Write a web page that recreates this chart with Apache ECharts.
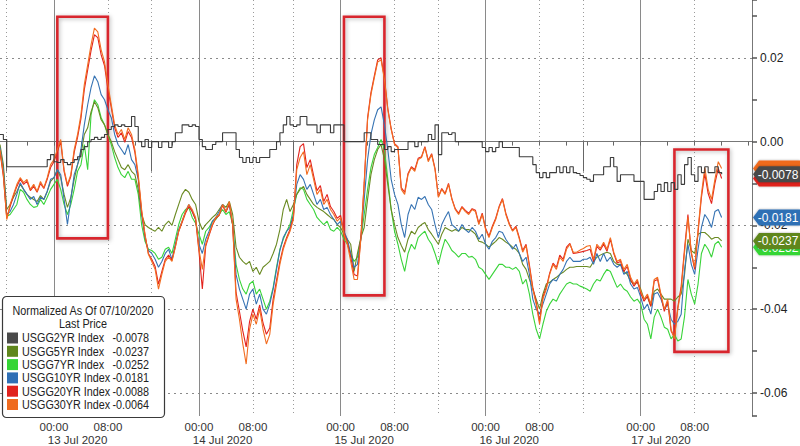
<!DOCTYPE html>
<html><head><meta charset="utf-8">
<script src="https://cdn.jsdelivr.net/npm/echarts@6/dist/echarts.min.js"></script>
<style>html,body{margin:0;padding:0;background:#fff}#c{width:800px;height:446px}</style>
</head><body><div id="c"></div>
<script>
// Trading sessions (30-minute bars); gaps between sessions are compressed like the terminal chart.
const sessions = [
  {label:'',            day:'2020-07-10', start:'2020-07-10 13:30', end:'2020-07-10 14:00'},
  {label:'13 Jul 2020', day:'2020-07-13', start:'2020-07-12 17:00', end:'2020-07-13 14:00'},
  {label:'14 Jul 2020', day:'2020-07-14', start:'2020-07-13 17:00', end:'2020-07-14 13:30'},
  {label:'15 Jul 2020', day:'2020-07-15', start:'2020-07-14 17:00', end:'2020-07-15 14:00'},
  {label:'16 Jul 2020', day:'2020-07-16', start:'2020-07-15 17:00', end:'2020-07-16 14:00'},
  {label:'17 Jul 2020', day:'2020-07-17', start:'2020-07-16 15:30', end:'2020-07-17 16:30'}
];
const timeLabels = ['00:00', '08:00'];
const seriesNames = ['USGG2YR Index','USGG5YR Index','USGG7YR Index','USGG10YR Index','USGG20YR Index','USGG30YR Index'];
const legendTitle = 'Normalized As Of 07/10/2020';
const legendSub = 'Last Price';

// Values in units of 0.0001 (change since 07/10/2020 close)
const usgg2 = [17,5,-60,-60,-60,-60,-60,-60,-60,-60,
-60,-60,-60,-60,-43,-31,-48,-50,-43,-50,
-55,-50,-43,-36,-19,-12,0,5,10,5,
10,17,29,36,40,36,40,36,36,60,
36,0,-12,5,-14,0,0,-14,0,0,
-14,0,21,21,40,40,36,40,36,5,
-12,-19,-19,-7,0,0,21,21,21,21,
-19,-38,-50,-38,-50,-38,-50,-38,-38,-38,
-19,-19,0,21,40,60,40,36,40,60,
60,40,40,40,21,40,40,40,21,40,
40,40,0,0,0,0,0,0,21,21,
5,5,-7,-7,-19,-12,-24,-19,-19,-19,
-19,0,0,-12,0,0,0,17,5,40,
-31,21,21,17,21,0,0,0,0,0,
0,0,0,-14,-24,-14,-24,-14,0,-14,
-14,-14,-14,-14,-36,-36,-36,-36,-55,-74,
-86,-74,-86,-74,-74,-60,-74,-60,-74,-60,
-74,-76,-81,-86,-90,-95,-79,-79,-79,-60,
-60,-38,-60,-95,-79,-79,-79,-79,-95,-95,
-95,-138,-138,-138,-119,-102,-119,-98,-119,-98,
-114,-79,-102,-55,-38,-79,-95,-60,-74,-60,
-74,-74,-60,-74,-78];
const usgg5 = [-7,-55,-162,-150,-133,-119,-102,-114,-126,-133,
-138,-143,-129,-138,-119,-95,-86,-67,-86,-126,
-157,-133,-90,-55,-31,17,33,71,95,81,
52,40,17,0,-24,-43,-62,-67,-55,-71,
-79,-114,-174,-198,-205,-210,-214,-205,-214,-198,
-190,-200,-174,-150,-126,-114,-121,-138,-150,-190,
-210,-198,-190,-181,-174,-162,-150,-157,-143,-174,
-252,-276,-286,-293,-286,-310,-300,-317,-300,-293,
-286,-267,-245,-210,-162,-138,-167,-150,-126,-114,
-107,-126,-138,-150,-157,-162,-167,-174,-181,-186,
-198,-205,-221,-233,-245,-310,-267,-229,-205,-138,
-79,-43,-19,-7,-43,-102,-162,-198,-229,-248,
-264,-233,-214,-221,-205,-198,-193,-210,-221,-233,
-245,-221,-205,-210,-214,-210,-214,-205,-210,-210,
-214,-221,-238,-240,-245,-252,-245,-238,-229,-233,
-240,-245,-252,-257,-267,-293,-305,-329,-352,-376,
-400,-364,-340,-336,-329,-324,-317,-312,-305,-300,
-300,-298,-298,-298,-298,-300,-286,-276,-271,-267,
-264,-267,-286,-293,-293,-310,-317,-333,-340,-336,
-352,-376,-371,-393,-357,-352,-364,-376,-376,-376,
-381,-371,-364,-317,-233,-260,-267,-221,-217,-217,
-224,-233,-229,-229,-237];
const usgg7 = [-24,-71,-179,-174,-162,-150,-114,-121,-138,-150,
-157,-155,-138,-150,-133,-114,-102,-90,-114,-150,
-174,-150,-114,-71,-55,-7,-67,64,100,88,
57,40,17,-7,-38,-62,-79,-86,-71,-90,
-90,-126,-198,-238,-257,-260,-267,-281,-276,-257,
-252,-267,-233,-198,-174,-162,-157,-181,-195,-221,
-245,-214,-205,-190,-186,-174,-162,-174,-167,-198,
-293,-329,-352,-364,-340,-333,-364,-352,-376,-400,
-381,-348,-300,-257,-233,-214,-198,-162,-126,-110,
-114,-138,-150,-162,-181,-190,-198,-190,-210,-214,
-205,-214,-233,-245,-267,-286,-276,-233,-174,-114,
-62,-31,-14,5,-19,-90,-162,-214,-245,-281,
-310,-267,-245,-257,-229,-221,-214,-233,-245,-267,
-293,-260,-233,-245,-260,-267,-276,-267,-267,-276,
-274,-281,-300,-305,-317,-329,-317,-305,-293,-293,
-300,-300,-305,-300,-310,-340,-329,-364,-412,-448,
-471,-436,-405,-388,-376,-381,-364,-352,-340,-336,
-340,-340,-345,-348,-352,-357,-340,-329,-333,-317,
-305,-310,-329,-348,-340,-352,-357,-371,-381,-376,
-388,-424,-436,-471,-419,-400,-419,-443,-448,-471,
-460,-476,-471,-417,-329,-364,-388,-340,-267,-245,
-257,-276,-245,-238,-252];
const usgg10 = [-14,-67,-174,-167,-150,-126,-98,-114,-126,-138,
-131,-150,-133,-138,-119,-90,-86,-67,-79,-138,
-198,-138,-79,-55,-19,40,88,129,157,143,
112,100,76,57,17,-7,-19,-31,-7,-43,
-55,-90,-174,-229,-260,-267,-281,-300,-286,-267,
-257,-281,-245,-210,-190,-167,-150,-167,-186,-245,
-267,-233,-214,-190,-181,-167,-150,-167,-150,-198,
-317,-352,-376,-400,-364,-352,-388,-364,-400,-412,
-388,-352,-305,-260,-229,-214,-205,-174,-102,-79,
-90,-114,-102,-126,-150,-138,-162,-157,-174,-186,
-198,-190,-214,-233,-267,-300,-293,-233,-138,-43,
17,52,76,83,40,-19,-90,-126,-150,-198,
-229,-174,-150,-162,-133,-138,-131,-150,-162,-198,
-229,-198,-181,-167,-198,-205,-214,-198,-210,-217,
-205,-214,-233,-221,-245,-257,-238,-229,-214,-217,
-233,-245,-257,-245,-267,-286,-276,-317,-376,-400,
-412,-388,-364,-340,-329,-333,-317,-305,-286,-276,
-286,-286,-286,-281,-281,-276,-293,-267,-286,-267,
-286,-276,-293,-300,-293,-317,-310,-340,-352,-348,
-371,-400,-388,-412,-364,-360,-376,-400,-388,-424,
-436,-429,-412,-305,-245,-293,-317,-257,-205,-174,
-186,-205,-167,-162,-181];
const usgg20 = [-24,-83,-183,-155,-129,-107,-90,-102,-95,-117,
-107,-121,-100,-112,-90,-62,-48,-24,0,-71,
-107,-83,-26,10,55,124,171,217,255,248,
207,181,126,81,33,10,21,-2,24,10,
-26,-86,-167,-224,-267,-281,-298,-340,-310,-281,
-271,-283,-250,-214,-193,-171,-155,-167,-186,-262,
-352,-250,-224,-200,-183,-176,-152,-169,-148,-200,
-360,-405,-452,-490,-430,-400,-424,-390,-433,-460,
-445,-376,-331,-286,-252,-229,-210,-181,-55,-12,
-5,-62,-43,-81,-117,-105,-143,-126,-155,-167,
-183,-176,-217,-240,-276,-317,-321,-229,-98,57,
117,157,195,200,152,79,31,-5,-12,-110,
-121,-76,-60,-67,-40,-36,-12,-45,-29,-64,
-131,-112,-124,-100,-136,-160,-171,-155,-164,-171,
-160,-164,-195,-171,-207,-226,-202,-183,-155,-136,
-171,-195,-212,-202,-229,-260,-245,-295,-348,-383,
-429,-371,-348,-314,-290,-300,-271,-281,-252,-243,
-267,-266,-264,-262,-260,-257,-286,-250,-259,-245,
-262,-233,-267,-290,-286,-310,-298,-329,-345,-333,
-362,-381,-369,-393,-333,-329,-369,-405,-381,-452,
-467,-395,-345,-255,-174,-267,-305,-217,-133,-76,
-124,-148,-100,-64,-88];
const usgg30 = [-19,-79,-186,-150,-126,-102,-86,-98,-90,-114,
-102,-119,-95,-110,-86,-55,-43,-19,5,-67,
-102,-79,-19,17,64,136,183,231,271,262,
219,190,136,88,40,17,29,5,33,17,
-19,-79,-162,-221,-269,-286,-305,-352,-317,-286,
-276,-286,-252,-214,-190,-167,-150,-162,-181,-257,
-305,-245,-221,-198,-181,-174,-150,-167,-143,-198,
-376,-424,-483,-531,-448,-412,-436,-400,-448,-483,
-460,-388,-340,-293,-257,-233,-214,-186,-67,-38,
-24,-79,-55,-90,-126,-114,-150,-138,-162,-174,
-190,-181,-221,-245,-286,-329,-329,-233,-102,52,
112,152,190,195,148,76,29,-7,-14,-114,
-126,-79,-62,-71,-43,-38,-14,-48,-31,-67,
-133,-114,-126,-102,-138,-162,-174,-157,-167,-174,
-162,-167,-198,-174,-210,-229,-205,-186,-157,-138,
-174,-198,-214,-205,-233,-264,-248,-300,-352,-388,
-436,-376,-352,-317,-293,-305,-276,-286,-257,-245,
-264,-264,-259,-255,-250,-248,-281,-245,-255,-240,
-257,-229,-264,-286,-281,-305,-293,-324,-340,-329,
-357,-376,-364,-388,-329,-324,-364,-400,-376,-448,
-471,-400,-352,-264,-181,-264,-300,-210,-126,-62,
-114,-138,-90,-48,-64];

// Highlight boxes: [from time, to time, top value, bottom value]
const highlights = [
  ['2020-07-13 00:30', '2020-07-13 08:00', 0.0298, -0.0231],
  ['2020-07-15 00:30', '2020-07-15 06:30', 0.0298, -0.0367],
  ['2020-07-17 05:00', '2020-07-17 13:00', -0.0019, -0.0502]
];

const colors = ['#3c3c3c', '#6a8a22', '#3ad43a', '#3673b3', '#e3231d', '#f26d21'];
const tagColors = ['#4a4a4a', '#5f861c', '#35d535', '#2f6fb5', '#e0221d', '#ef6b1f'];
const FONT = "'Liberation Sans', Arial, sans-serif";

// ---------- build categories ----------
function parseT(s){const [d,t]=s.split(' ');const [Y,M,D]=d.split('-').map(Number);const [h,m]=t.split(':').map(Number);return Date.UTC(Y,M-1,D,h,m);}
function p2(n){return (n<10?'0':'')+n;}
function fmtT(ms){const d=new Date(ms);return d.getUTCFullYear()+'-'+p2(d.getUTCMonth()+1)+'-'+p2(d.getUTCDate())+' '+p2(d.getUTCHours())+':'+p2(d.getUTCMinutes());}
const cats=[], sessOf=[], sessionStarts=new Set(), labelIdx=new Set();
sessions.forEach((s,k)=>{
  const first=cats.length; let t=parseT(s.start); const e=parseT(s.end);
  while(t<=e){cats.push(fmtT(t)); sessOf.push(k); t+=30*60000;}
  if(k>0){
    sessionStarts.add(first);
    const lim=parseT(s.day+' 14:00'); let last=first;
    for(let i=first;i<cats.length;i++){ if(parseT(cats[i])<=lim) last=i; }
    labelIdx.add(Math.round((first+last)/2));
  }
});

const all=[usgg2,usgg5,usgg7,usgg10,usgg20,usgg30];
const drawOrder=[2,1,3,4,5,0];
const last=all.map(a=>a[a.length-1]/10000);

const chart=echarts.init(document.getElementById('c'),null,{renderer:'svg'});
const series=drawOrder.map(k=>({
  name:seriesNames[k], type:'line', data:all[k].map(v=>v/10000), symbol:'none',
  step: k===0 ? 'end' : false,
  lineStyle:{color:colors[k], width:1.1}, itemStyle:{color:colors[k]}, z: 2+drawOrder.indexOf(k),
  silent:true
}));
series[series.length-1].markArea={
  silent:true,
  itemStyle:{color:'rgba(0,0,0,0)', borderColor:'#d8272d', borderWidth:2.6, shadowBlur:4, shadowColor:'rgba(0,0,0,0.3)', shadowOffsetX:1, shadowOffsetY:1},
  data: highlights.map(h=>[{xAxis:h[0], yAxis:h[2]},{xAxis:h[1], yAxis:h[3]}])
};

const YMIN=-0.0655, YMAX=0.0338;
chart.setOption({
  animation:false,
  grid:{left:0, right:48, top:0, bottom:29},
  xAxis:[{
    type:'category', data:cats, boundaryGap:false, position:'bottom',
    axisLine:{lineStyle:{color:'#777', width:1}},
    axisTick:{interval:(i,v)=>{const h=+v.slice(11,13), m=v.slice(14);return m==='00'&&h%4===0;}, length:4, lineStyle:{color:'#666'}},
    axisLabel:{interval:(i,v)=>timeLabels.includes(v.slice(11)), formatter:v=>v.slice(11), color:'#333', fontSize:11.5, fontFamily:FONT, margin:5},
    splitLine:{show:true, interval:(i,v)=>v.slice(11)==='00:00', lineStyle:{color:'#8a8a8a', width:1}}
  },{
    type:'category', data:cats, boundaryGap:false, position:'bottom',
    axisLine:{show:false},
    axisTick:{interval:(i)=>sessionStarts.has(i), length:30, lineStyle:{color:'#666'}},
    axisLabel:{interval:(i)=>labelIdx.has(i), formatter:(v,i)=>sessions[sessOf[i]].label, color:'#333', fontSize:11.5, fontFamily:FONT, margin:18},
    splitLine:{show:true, interval:(i,v)=>sessionStarts.has(i)||v.slice(11)==='08:00', lineStyle:{color:'#9a9a9a', type:[1,3], width:1}}
  }],
  yAxis:[{
    type:'value', position:'right', min:YMIN, max:YMAX, splitNumber:10,
    axisLine:{show:true, lineStyle:{color:'#777'}},
    axisTick:{show:true, length:5, lineStyle:{color:'#555', width:1.5}},
    axisLabel:{color:'#222', fontSize:12, fontFamily:FONT, margin:8,
      formatter:v=>{const k=Math.round(v*100); if(Math.abs(v*100-k)>1e-6||k%2) return ''; return (k/100).toFixed(2);}},
    splitLine:{show:false}
  },{
    type:'value', position:'right', min:YMIN, max:YMAX, splitNumber:5,
    axisLine:{show:false}, axisTick:{show:false}, axisLabel:{show:false},
    splitLine:{show:true, showMinLine:false, showMaxLine:false, lineStyle:{color:'#8a8a8a', type:[2,4], width:1}}
  }],
  series
});

// ---------- legend box & last value tags ----------
const SX=0.8;   // condensed look of the terminal font
function ctext(txt, x, y, align){
  return {type:'group', x:x, y:y, scaleX:SX, z:101, children:[
    {type:'text', z:101, style:{text:txt, x:0, y:0, align:align, verticalAlign:'middle', font:'13.5px '+FONT, fill:'#222'}}]};
}
const g=[];
g.push({type:'rect', z:100, shape:{x:2.5,y:296.5,width:162,height:121,r:4}, style:{fill:'#fff', stroke:'#3a3a3a', lineWidth:1.2}});
g.push(ctext(legendTitle, 83, 311, 'center'));
g.push(ctext(legendSub, 83, 324, 'center'));
seriesNames.forEach((n,k)=>{
  const y=338+k*13.3;
  g.push({type:'rect', z:101, shape:{x:7,y:y-5.5,width:11,height:11}, style:{fill:tagColors[k]}});
  g.push(ctext(n, 22, y, 'left'));
  g.push(ctext(last[k].toFixed(4), 149, y, 'right'));
});
// tags at the right axis; the ones fully hidden in the reference (30YR, 20YR) show only their edges
const tagOrder=[5,4,0,2,1,3];
const tagText={0:true,1:true,2:true,3:true};
tagOrder.forEach((k,j)=>{
  const y=chart.convertToPixel({yAxisIndex:0}, last[k]);
  g.push({type:'polygon', z:110+j*2, shape:{points:[[753,y],[759,y-8],[800,y-8],[800,y+8],[759,y+8]]}, style:{fill:tagColors[k], shadowBlur:2, shadowColor:'rgba(0,0,0,0.35)'}});
  if(tagText[k]) g.push({type:'text', z:111+j*2, style:{text:last[k].toFixed(4), x:778, y:y+0.5, align:'center', verticalAlign:'middle', font:'12px '+FONT, fill:'#fff'}});
});
chart.setOption({graphic:g});
</script>
</body></html>
